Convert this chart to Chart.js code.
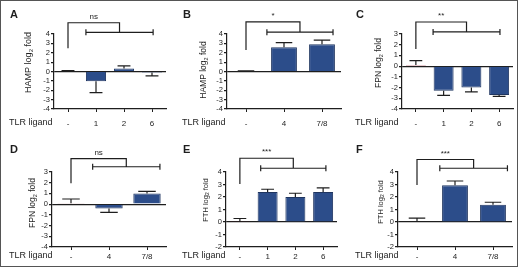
<!DOCTYPE html>
<html>
<head>
<meta charset="utf-8">
<script src="https://cdn.jsdelivr.net/npm/chart.js@4.4.1/dist/chart.umd.min.js"></script>
<style>
  html, body { margin: 0; padding: 0; background: #fff; }
  body { width: 520px; height: 270px; position: relative; overflow: hidden; }
  .pane { position: absolute; }
  .frame { position: absolute; left: 0; top: 0; width: 518px; height: 267px; box-sizing: border-box; border: 1px solid #555; pointer-events: none; }
</style>
</head>
<body>
<div class="pane" style="left:0px;top:0px"><canvas id="cA" width="173" height="135"></canvas></div>
<div class="pane" style="left:173px;top:0px"><canvas id="cB" width="173" height="135"></canvas></div>
<div class="pane" style="left:346px;top:0px"><canvas id="cC" width="174" height="135"></canvas></div>
<div class="pane" style="left:0px;top:135px"><canvas id="cD" width="173" height="135"></canvas></div>
<div class="pane" style="left:173px;top:135px"><canvas id="cE" width="173" height="135"></canvas></div>
<div class="pane" style="left:346px;top:135px"><canvas id="cF" width="174" height="135"></canvas></div>
<div class="frame"></div>
<script>
// ---- data ----
const cat4 = ['-', '1', '2', '6'];
const cat3 = ['-', '4', '7/8'];
const xAxisLabel = 'TLR ligand';

const hampA = [0.05, -1.05, 0.32, -0.1];
const hampAErr = [0.04, 1.2, 0.28, 0.37];
const hampB = [0.05, 2.6, 2.9];
const hampBErr = [0.02, 0.47, 0.45];
const fpnC = [0.1, -2.3, -2.0, -2.7];
const fpnCErr = [0.42, 0.42, 0.4, 0.13];
const fpnD = [0.08, -0.4, 1.0];
const fpnDErr = [0.4, 0.37, 0.2];
const fthE = [0.03, 2.4, 2.0, 2.4];
const fthEErr = [0.25, 0.22, 0.3, 0.33];
const fthF = [0.04, 2.95, 1.38];
const fthFErr = [0.27, 0.33, 0.2];

const sigA = 'ns', sigB = '*', sigC = '**', sigD = 'ns', sigE = '***', sigF = '***';

// ---- styles ----
const FONT = '"Liberation Sans", Arial, Helvetica, sans-serif';
const BLUE = '#2c4d8a', BLUE_EDGE = '#1f3560';
const RED = '#b8233a', RED_EDGE = '#8a1a2b';
const INK = '#1e1e1e';

const decor = {
  id: 'decor',
  afterDraw(chart, args, o) {
    const ctx = chart.ctx;
    const xs = chart.scales.x, ys = chart.scales.y;
    const ca = chart.chartArea;
    const p0 = xs.getPixelForValue(0), step = xs.getPixelForValue(1) - p0;
    const px = i => p0 + i * step;
    const ds = chart.data.datasets[0];
    const meta = chart.getDatasetMeta(0);
    ctx.save();
    ctx.strokeStyle = INK;
    ctx.fillStyle = INK;
    // error bars
    ctx.lineWidth = 1.2;
    o.err.forEach((e, i) => {
      const v = ds.data[i];
      const dir = v >= 0 ? 1 : -1;
      const bar = meta.data[i];
      const cx = bar.x, w = bar.width;
      const yv = ys.getPixelForValue(v), ye = ys.getPixelForValue(v + dir * e);
      ctx.beginPath();
      ctx.moveTo(cx, yv); ctx.lineTo(cx, ye);
      ctx.moveTo(cx - w * 0.32, ye); ctx.lineTo(cx + w * 0.32, ye);
      ctx.stroke();
    });
    // significance bracket
    const b = o.br;
    const xl = px(0), xa = px(b.x1), xb = px(b.x2), xm = (xa + xb) / 2;
    const yl = ys.getPixelForValue(b.legBottom), yt = ys.getPixelForValue(b.top), yn = ys.getPixelForValue(b.line);
    ctx.lineWidth = 1.2;
    ctx.beginPath();
    ctx.moveTo(xl, yl); ctx.lineTo(xl, yt); ctx.lineTo(xm, yt); ctx.lineTo(xm, yn);
    ctx.moveTo(xa, yn); ctx.lineTo(xb, yn);
    ctx.moveTo(xa, yn - 3); ctx.lineTo(xa, yn + 3);
    ctx.moveTo(xb, yn - 3); ctx.lineTo(xb, yn + 3);
    ctx.stroke();
    ctx.font = '8px ' + FONT;
    ctx.textAlign = 'center';
    ctx.textBaseline = 'bottom';
    ctx.fillText(o.sig, (xl + xm) / 2, yt - 2);
    // panel letter
    ctx.font = 'bold 11px ' + FONT;
    ctx.textAlign = 'left';
    ctx.textBaseline = 'alphabetic';
    ctx.fillText(o.letter, 10, 18);
    // TLR ligand
    ctx.font = '9px ' + FONT;
    ctx.textBaseline = 'middle';
    ctx.fillText(xAxisLabel, 9, ca.bottom + o.rowGap);
    // y title with subscript
    ctx.translate(o.titleX, o.titleY);
    ctx.rotate(-Math.PI / 2);
    const fs = o.titleSize;
    const fMain = fs + 'px ' + FONT, fSub = (fs * 0.65).toFixed(2) + 'px ' + FONT;
    ctx.font = fMain; const w1 = ctx.measureText(o.title[0]).width; const w3 = ctx.measureText(o.title[2]).width;
    ctx.font = fSub; const w2 = ctx.measureText(o.title[1]).width;
    let x0 = -(w1 + w2 + w3) / 2;
    ctx.textBaseline = 'alphabetic';
    ctx.font = fMain; ctx.fillText(o.title[0], x0, fs * 0.35);
    ctx.font = fSub; ctx.fillText(o.title[1], x0 + w1, fs * 0.35 + fs * 0.22);
    ctx.font = fMain; ctx.fillText(o.title[2], x0 + w1 + w2, fs * 0.35);
    ctx.restore();
  }
};

const panels = [
  { id: 'cA', left: 0, top: 0, w: 173, h: 135, letter: 'A', labels: cat4, values: hampA, err: hampAErr, yMin: -4, yMax: 4,
    title: ['HAMP log', '2', ' fold'], sig: sigA, area: { l: 54, r: 166, t: 34, b: 109 },
    titleX: 28, titleY: 62.5, titleSize: 9, rowGap: 14, tickPad: 6.5, barPct: 0.72,
    br: { legBottom: 2.47, top: 5.2, line: 4.18, x1: 0.64, x2: 3.04 } },
  { id: 'cB', left: 173, top: 0, w: 173, h: 135, letter: 'B', labels: cat3, values: hampB, err: hampBErr, yMin: -4, yMax: 4,
    title: ['HAMP log', '2', ' fold'], sig: sigB, area: { l: 227, r: 341, t: 34, b: 109 },
    titleX: 30, titleY: 70, titleSize: 8.5, rowGap: 14, tickPad: 6.5, barPct: 0.68,
    br: { legBottom: 2.3, top: 5.3, line: 4.2, x1: 0.55, x2: 2.29 } },
  { id: 'cC', left: 346, top: 0, w: 174, h: 135, letter: 'C', labels: cat4, values: fpnC, err: fpnCErr, yMin: -4, yMax: 3,
    title: ['FPN log', '2', ' fold'], sig: sigC, area: { l: 402, r: 513, t: 34, b: 109 },
    titleX: 32, titleY: 63, titleSize: 8.5, rowGap: 14, tickPad: 6.5, barPct: 0.72,
    br: { legBottom: 1.6, top: 4.12, line: 3.19, x1: 0.62, x2: 3.03 } },
  { id: 'cD', left: 0, top: 135, w: 173, h: 135, letter: 'D', labels: cat3, values: fpnD, err: fpnDErr, yMin: -4, yMax: 3,
    title: ['FPN log', '2', ' fold'], sig: sigD, area: { l: 52, r: 166, t: 172, b: 247 },
    titleX: 32, titleY: 68, titleSize: 8.5, rowGap: 9, tickPad: 1.5, barPct: 0.72,
    br: { legBottom: 1.94, top: 4.24, line: 3.49, x1: 0.57, x2: 2.34 } },
  { id: 'cE', left: 173, top: 135, w: 173, h: 135, letter: 'E', labels: cat4, values: fthE, err: fthEErr, yMin: -2, yMax: 4,
    title: ['FTH log', '2', ' fold'], sig: sigE, area: { l: 226, r: 337, t: 172, b: 247 },
    titleX: 32, titleY: 65, titleSize: 7.5, rowGap: 9, tickPad: 1.5, barPct: 0.72,
    br: { legBottom: 3.04, top: 5.1, line: 4.3, x1: 0.75, x2: 3.1 } },
  { id: 'cF', left: 346, top: 135, w: 174, h: 135, letter: 'F', labels: cat3, values: fthF, err: fthFErr, yMin: -2, yMax: 4,
    title: ['FTH log', '2', ' fold'], sig: sigF, area: { l: 398, r: 512, t: 172, b: 247 },
    titleX: 34, titleY: 67, titleSize: 7.5, rowGap: 9, tickPad: 1.5, barPct: 0.68,
    br: { legBottom: 2.96, top: 5.0, line: 4.3, x1: 0.6, x2: 2.38 } }
];

panels.forEach(p => {
  const yW = p.area.l - p.left;
  const padR = p.left + p.w - p.area.r;
  const padT = p.area.t - p.top;
  const xH = p.top + p.h - p.area.b;
  const bg = p.values.map((v, i) => i === 0 ? RED : BLUE);
  const bc = p.values.map((v, i) => i === 0 ? RED_EDGE : BLUE_EDGE);
  new Chart(document.getElementById(p.id), {
    type: 'bar',
    data: {
      labels: p.labels,
      datasets: [{ data: p.values, backgroundColor: bg, borderColor: bc, borderWidth: 1,
        barPercentage: p.barPct, categoryPercentage: 1 }]
    },
    options: {
      responsive: false,
      animation: false,
      devicePixelRatio: 1,
      layout: { padding: { top: padT, right: padR, left: 0, bottom: 0 } },
      plugins: {
        legend: { display: false },
        tooltip: { enabled: false },
        decor: { letter: p.letter, err: p.err, br: p.br, sig: p.sig, title: p.title,
          titleX: p.titleX, titleY: p.titleY, titleSize: p.titleSize, rowGap: p.rowGap }
      },
      scales: {
        x: {
          offset: true,
          grid: { display: true, drawOnChartArea: false, drawTicks: true, tickLength: 3, offset: false, tickColor: INK, color: INK },
          border: { display: true, color: INK, width: 1.2 },
          ticks: { font: { family: FONT, size: 8 }, color: INK, padding: p.tickPad, maxRotation: 0, autoSkip: false },
          afterFit: s => { s.height = xH; }
        },
        y: {
          min: p.yMin, max: p.yMax,
          ticks: { stepSize: 1, autoSkip: false, font: { family: FONT, size: 7.5 }, color: INK, padding: 1 },
          grid: { color: c => (c.tick && c.tick.value === 0) ? INK : 'rgba(0,0,0,0)', lineWidth: 1.2, tickLength: 3, tickColor: INK, drawTicks: true },
          border: { display: true, color: INK, width: 1.2 },
          afterFit: s => { s.width = yW; }
        }
      }
    },
    plugins: [decor]
  });
});
</script>
</body>
</html>
